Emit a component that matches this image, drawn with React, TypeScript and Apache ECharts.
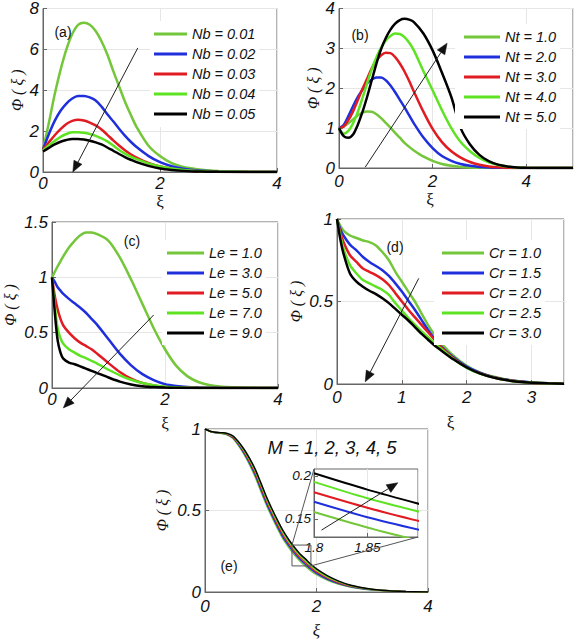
import React, { useEffect, useRef } from "react";
import * as echarts from "echarts";

// ---------- colours ----------
const G1 = "#74c63a";
const BL = "#1f2fdc";
const RD = "#e11b22";
const G2 = "#5ee322";
const BK = "#000000";
const COLORS = [G1, BL, RD, G2, BK];

// ---------- panel (a) ----------
const xsA = [0, 0.1, 0.2, 0.3, 0.4, 0.5, 0.6, 0.7, 0.8, 0.9, 1.0, 1.1, 1.2, 1.3, 1.4, 1.5, 1.6, 1.8, 2.0, 2.2, 2.4, 2.6, 2.8, 3.0, 3.5, 4.0];
const nb1 = [1.1, 2.4, 3.8, 5.0, 6.0, 6.75, 7.2, 7.3, 7.2, 6.9, 6.4, 5.75, 4.95, 4.2, 3.45, 2.8, 2.2, 1.3, 0.78, 0.43, 0.25, 0.15, 0.08, 0.045, 0.008, 0.001];
const nb2 = [1.1, 1.85, 2.5, 3.0, 3.35, 3.6, 3.72, 3.72, 3.65, 3.5, 3.2, 2.83, 2.48, 2.12, 1.78, 1.48, 1.22, 0.79, 0.48, 0.28, 0.16, 0.09, 0.05, 0.025, 0.005, 0];
const nb3 = [1.1, 1.45, 1.8, 2.1, 2.35, 2.5, 2.56, 2.52, 2.42, 2.28, 2.08, 1.82, 1.55, 1.3, 1.07, 0.87, 0.7, 0.44, 0.27, 0.16, 0.09, 0.05, 0.025, 0.012, 0.002, 0];
const nb4 = [1.05, 1.3, 1.52, 1.72, 1.86, 1.94, 1.95, 1.92, 1.86, 1.77, 1.65, 1.5, 1.3, 1.08, 0.9, 0.75, 0.63, 0.42, 0.27, 0.17, 0.1, 0.055, 0.03, 0.015, 0.003, 0];
const nb5 = [1.0, 1.18, 1.35, 1.48, 1.57, 1.62, 1.62, 1.59, 1.53, 1.45, 1.35, 1.2, 1.04, 0.88, 0.73, 0.6, 0.48, 0.3, 0.17, 0.1, 0.055, 0.03, 0.015, 0.008, 0.001, 0];
const namesA = ["Nb = 0.01", "Nb = 0.02", "Nb = 0.03", "Nb = 0.04", "Nb = 0.05"];

// ---------- panel (b) ----------
const xsB = [0, 0.1, 0.2, 0.3, 0.4, 0.5, 0.6, 0.7, 0.8, 0.9, 1.0, 1.1, 1.2, 1.3, 1.4, 1.5, 1.6, 1.8, 2.0, 2.2, 2.4, 2.6, 2.8, 3.0, 3.2, 3.4, 3.6, 3.8, 4.0, 4.5, 5.0];
const nt1 = [1.0, 1.04, 1.12, 1.22, 1.32, 1.39, 1.42, 1.41, 1.35, 1.25, 1.13, 1.01, 0.88, 0.76, 0.63, 0.53, 0.44, 0.29, 0.18, 0.1, 0.055, 0.028, 0.013, 0.006, 0.003, 0.001, 0, 0, 0, 0, 0];
const nt2 = [1.0, 1.08, 1.3, 1.55, 1.78, 1.96, 2.12, 2.22, 2.27, 2.27, 2.2, 2.07, 1.9, 1.71, 1.52, 1.32, 1.12, 0.77, 0.5, 0.3, 0.18, 0.1, 0.055, 0.028, 0.014, 0.007, 0.003, 0.001, 0, 0, 0];
const nt3 = [1.0, 1.04, 1.2, 1.42, 1.7, 1.98, 2.24, 2.5, 2.7, 2.83, 2.89, 2.88, 2.78, 2.62, 2.42, 2.18, 1.92, 1.42, 0.98, 0.65, 0.42, 0.26, 0.15, 0.08, 0.04, 0.018, 0.008, 0.003, 0.001, 0, 0];
const nt4 = [1.0, 0.86, 0.93, 1.12, 1.4, 1.75, 2.12, 2.48, 2.78, 3.02, 3.2, 3.31, 3.37, 3.36, 3.28, 3.14, 2.95, 2.44, 1.95, 1.45, 1.0, 0.65, 0.42, 0.25, 0.14, 0.075, 0.035, 0.015, 0.006, 0.001, 0];
const nt5 = [1.0, 0.8, 0.76, 0.84, 1.08, 1.4, 1.78, 2.2, 2.62, 2.98, 3.26, 3.47, 3.62, 3.71, 3.74, 3.72, 3.66, 3.38, 2.95, 2.39, 1.78, 1.0, 0.59, 0.33, 0.17, 0.085, 0.04, 0.015, 0.006, 0.001, 0];
const namesB = ["Nt = 1.0", "Nt = 2.0", "Nt = 3.0", "Nt = 4.0", "Nt = 5.0"];

// ---------- panel (c) ----------
const xsC = [0, 0.05, 0.1, 0.15, 0.2, 0.3, 0.4, 0.5, 0.6, 0.7, 0.8, 1.0, 1.2, 1.4, 1.6, 1.8, 2.0, 2.2, 2.4, 2.6, 2.8, 3.0, 3.2, 3.5, 4.0];
const le1 = [1.0, 1.05, 1.1, 1.145, 1.19, 1.27, 1.33, 1.38, 1.405, 1.405, 1.39, 1.33, 1.18, 0.98, 0.76, 0.54, 0.35, 0.2, 0.105, 0.052, 0.025, 0.012, 0.006, 0.002, 0];
const le3 = [1.0, 0.96, 0.91, 0.88, 0.85, 0.805, 0.765, 0.725, 0.68, 0.625, 0.57, 0.44, 0.31, 0.205, 0.125, 0.072, 0.035, 0.018, 0.009, 0.005, 0.002, 0.001, 0, 0, 0];
const le5 = [1.0, 0.83, 0.71, 0.625, 0.565, 0.5, 0.45, 0.41, 0.38, 0.35, 0.31, 0.225, 0.145, 0.085, 0.045, 0.022, 0.01, 0.005, 0.002, 0.001, 0, 0, 0, 0, 0];
const le7 = [1.0, 0.74, 0.54, 0.45, 0.4, 0.35, 0.32, 0.29, 0.27, 0.245, 0.22, 0.165, 0.115, 0.075, 0.045, 0.024, 0.012, 0.006, 0.003, 0.001, 0, 0, 0, 0, 0];
const le9 = [1.0, 0.68, 0.43, 0.32, 0.265, 0.23, 0.215, 0.195, 0.175, 0.155, 0.135, 0.095, 0.058, 0.032, 0.016, 0.008, 0.004, 0.002, 0, 0, 0, 0, 0, 0, 0];
const namesC = ["Le = 1.0", "Le = 3.0", "Le = 5.0", "Le = 7.0", "Le = 9.0"];

// ---------- panel (d) ----------
const xsD = [0, 0.05, 0.1, 0.2, 0.3, 0.4, 0.5, 0.6, 0.7, 0.8, 0.9, 1.0, 1.1, 1.2, 1.3, 1.4, 1.5, 1.6, 1.8, 2.0, 2.2, 2.4, 2.6, 2.8, 3.0, 3.25, 3.5];
const cr10 = [1.0, 0.96, 0.93, 0.9, 0.885, 0.87, 0.86, 0.84, 0.8, 0.75, 0.68, 0.62, 0.56, 0.5, 0.43, 0.36, 0.3, 0.25, 0.17, 0.11, 0.07, 0.045, 0.028, 0.016, 0.009, 0.004, 0.002];
const cr15 = [1.0, 0.94, 0.9, 0.845, 0.81, 0.77, 0.74, 0.715, 0.69, 0.655, 0.61, 0.56, 0.505, 0.45, 0.39, 0.33, 0.275, 0.23, 0.16, 0.105, 0.068, 0.043, 0.027, 0.016, 0.009, 0.004, 0.002];
const cr20 = [1.0, 0.92, 0.86, 0.78, 0.74, 0.7, 0.68, 0.66, 0.635, 0.6, 0.55, 0.5, 0.45, 0.405, 0.36, 0.315, 0.27, 0.225, 0.155, 0.1, 0.065, 0.041, 0.025, 0.015, 0.008, 0.004, 0.002];
const cr25 = [1.0, 0.9, 0.82, 0.72, 0.67, 0.63, 0.61, 0.59, 0.57, 0.54, 0.49, 0.445, 0.4, 0.36, 0.32, 0.285, 0.25, 0.215, 0.15, 0.098, 0.063, 0.04, 0.024, 0.014, 0.008, 0.004, 0.002];
const cr30 = [1.0, 0.88, 0.79, 0.67, 0.62, 0.59, 0.565, 0.545, 0.52, 0.49, 0.455, 0.42, 0.385, 0.345, 0.305, 0.27, 0.235, 0.205, 0.148, 0.1, 0.064, 0.04, 0.024, 0.014, 0.008, 0.004, 0.002];
const namesD = ["Cr = 1.0", "Cr = 1.5", "Cr = 2.0", "Cr = 2.5", "Cr = 3.0"];

// ---------- panel (e) ----------
const xsE = [0, 0.1, 0.2, 0.3, 0.4, 0.5, 0.6, 0.7, 0.8, 0.9, 1.0, 1.1, 1.2, 1.3, 1.4, 1.5, 1.6, 1.7, 1.8, 1.9, 2.0, 2.2, 2.4, 2.6, 2.8, 3.0, 3.3, 3.6, 4.0];
const m1 = [1.0, 0.985, 0.976, 0.973, 0.964, 0.942, 0.898, 0.844, 0.78, 0.706, 0.619, 0.534, 0.459, 0.389, 0.324, 0.274, 0.228, 0.191, 0.159, 0.13, 0.106, 0.071, 0.047, 0.031, 0.02, 0.013, 0.007, 0.003, 0];
const m2 = [1.0, 0.985, 0.977, 0.974, 0.966, 0.946, 0.904, 0.852, 0.79, 0.718, 0.632, 0.547, 0.472, 0.402, 0.337, 0.286, 0.24, 0.202, 0.17, 0.14, 0.115, 0.078, 0.052, 0.034, 0.022, 0.014, 0.007, 0.003, 0];
const m3 = [1.0, 0.985, 0.978, 0.975, 0.968, 0.95, 0.91, 0.86, 0.8, 0.73, 0.645, 0.56, 0.485, 0.415, 0.35, 0.298, 0.252, 0.213, 0.181, 0.15, 0.124, 0.085, 0.057, 0.037, 0.024, 0.015, 0.007, 0.003, 0];
const m4 = [1.0, 0.985, 0.979, 0.976, 0.97, 0.954, 0.916, 0.868, 0.81, 0.742, 0.658, 0.573, 0.498, 0.428, 0.363, 0.31, 0.264, 0.224, 0.192, 0.16, 0.133, 0.092, 0.062, 0.04, 0.026, 0.016, 0.007, 0.003, 0];
const m5 = [1.0, 0.985, 0.98, 0.977, 0.972, 0.958, 0.922, 0.876, 0.82, 0.754, 0.671, 0.586, 0.511, 0.441, 0.376, 0.322, 0.276, 0.235, 0.203, 0.17, 0.142, 0.099, 0.067, 0.043, 0.028, 0.017, 0.007, 0.003, 0];
const namesE = ["M = 1", "M = 2", "M = 3", "M = 4", "M = 5"];

// ---------- inset of (e) ----------
const xsIn = [1.8, 1.85, 1.9];
const in1 = [0.158, 0.14, 0.124];
const in2 = [0.17, 0.152, 0.137];
const in3 = [0.181, 0.163, 0.147];
const in4 = [0.193, 0.174, 0.158];
const in5 = [0.203, 0.184, 0.167];
const namesIn = ["M = 1 (zoom)", "M = 2 (zoom)", "M = 3 (zoom)", "M = 4 (zoom)", "M = 5 (zoom)"];
const insetYTicks = [0.15, 0.2];

// ---------- styles ----------
const SANS = "'Liberation Sans', Arial, Helvetica, sans-serif";
const SERIF = "'Liberation Serif', 'Times New Roman', 'DejaVu Serif', serif";
const AXIS_C = "#666";
const GRID_C = "#e6e6e6";
const TXT = "#111";

function mkSeries(grid: number, xs: number[], ys: number[][], names: string[], width: number, z = 2) {
  return ys.map((arr, j) => ({
    type: "line",
    name: names[j],
    xAxisIndex: grid,
    yAxisIndex: grid,
    data: xs.map((x, k) => [x, arr[k]]),
    smooth: 0.3,
    showSymbol: false,
    symbol: "none",
    z,
    itemStyle: { color: COLORS[j] },
    lineStyle: { color: COLORS[j], width },
    emphasis: { disabled: true },
  }));
}

function mkX(i: number, c: any) {
  return {
    type: "value",
    gridIndex: i,
    min: c.min,
    max: c.max,
    interval: c.interval,
    z: c.z,
    axisLine: { show: true, onZero: false, lineStyle: { color: AXIS_C, width: 1 } },
    axisTick: { show: true, inside: true, length: 4, lineStyle: { color: AXIS_C } },
    axisLabel: {
      fontSize: c.fs ?? 17,
      fontStyle: "italic",
      fontFamily: SANS,
      color: TXT,
      margin: c.margin ?? 3,
      showMaxLabel: c.showMax,
    },
    splitLine: { show: true, lineStyle: { color: GRID_C, width: 1 } },
    name: c.name,
    nameLocation: "middle",
    nameGap: c.nameGap,
    nameTextStyle: {
      fontFamily: SERIF,
      fontSize: 17,
      color: TXT,
      fontStyle: c.nameItalic ? "italic" : "normal",
      padding: c.namePadding ?? 0,
    },
  };
}

function mkY(i: number, c: any) {
  return {
    type: "value",
    gridIndex: i,
    min: c.min,
    max: c.max,
    interval: c.interval,
    z: c.z,
    axisLine: { show: true, onZero: false, lineStyle: { color: AXIS_C, width: 1 } },
    axisTick: { show: true, inside: true, length: 4, lineStyle: { color: AXIS_C }, customValues: c.custom },
    axisLabel: {
      fontSize: c.fs ?? 17,
      fontStyle: "italic",
      fontFamily: SANS,
      color: TXT,
      margin: c.margin ?? 4,
      customValues: c.custom,
    },
    splitLine: { show: c.split ?? true, lineStyle: { color: GRID_C, width: 1 } },
    name: c.name,
    nameLocation: "middle",
    nameRotate: 90,
    nameGap: c.nameGap,
    nameTextStyle: { fontFamily: SERIF, fontSize: 16, fontStyle: "italic", color: TXT },
  };
}

function mkLegend(names: string[], left: number, top: number, itemWidth: number, padding: number[]) {
  return {
    data: names,
    orient: "vertical",
    left,
    top,
    itemWidth,
    itemHeight: 3,
    itemGap: 0,
    icon: "rect",
    selectedMode: false,
    backgroundColor: "#ffffff",
    padding,
    z: 4,
    textStyle: { fontSize: 14.5, fontStyle: "italic", fontFamily: SANS, color: TXT, lineHeight: 20 },
  };
}

const PHI = "Φ ( ξ )";

function buildOption() {
  return {
    animation: false,
    backgroundColor: "#ffffff",
    grid: [
      { left: 43, top: 7, width: 234, height: 165, show: true, borderColor: AXIS_C, borderWidth: 1 },
      { left: 339, top: 7, width: 234, height: 161, show: true, borderColor: AXIS_C, borderWidth: 1 },
      { left: 52, top: 222, width: 226, height: 166, show: true, borderColor: AXIS_C, borderWidth: 1 },
      { left: 337, top: 219, width: 227, height: 165, show: true, borderColor: AXIS_C, borderWidth: 1 },
      { left: 205, top: 429, width: 223, height: 163, show: true, borderColor: AXIS_C, borderWidth: 1 },
      { left: 314, top: 469, width: 104, height: 68, show: true, borderColor: AXIS_C, borderWidth: 1, backgroundColor: "#ffffff", z: 1 },
    ],
    xAxis: [
      mkX(0, { min: 0, max: 4, interval: 2, name: "ξ", nameGap: 20, margin: 3 }),
      mkX(1, { min: 0, max: 5, interval: 2, name: "ξ", nameGap: 19, margin: 5, showMax: false, namePadding: [0, 52, 0, 0] }),
      mkX(2, { min: 0, max: 4, interval: 2, name: "ξ", nameGap: 27, margin: 3 }),
      mkX(3, { min: 0, max: 3.5, interval: 1, name: "ξ", nameGap: 30, margin: 5, showMax: false }),
      mkX(4, { min: 0, max: 4, interval: 2, name: "ξ", nameGap: 30, margin: 6, nameItalic: true }),
      mkX(5, { min: 1.8, max: 1.8975, interval: 0.05, fs: 13.5, margin: 3, showMax: false, z: 2 }),
    ],
    yAxis: [
      mkY(0, { min: 0, max: 8, interval: 2, name: PHI, nameGap: 17 }),
      mkY(1, { min: 0, max: 4, interval: 1, name: PHI, nameGap: 9 }),
      mkY(2, { min: 0, max: 1.5, interval: 0.5, name: PHI, nameGap: 34 }),
      mkY(3, { min: 0, max: 1, interval: 0.5, name: PHI, nameGap: 33 }),
      mkY(4, { min: 0, max: 1, interval: 0.5, name: PHI, nameGap: 35 }),
      mkY(5, { min: 0.129, max: 0.208, fs: 13.5, margin: 3, custom: insetYTicks, split: false, z: 2 }),
    ],
    legend: [
      mkLegend(namesA, 150, 21, 33, [3, 4, 3, 4]),
      mkLegend(namesB, 455, 24, 36, [3, 4, 2, 9]),
      mkLegend(namesC, 162, 240, 37, [3, 4, 2, 5]),
      mkLegend(namesD, 434, 240, 42, [3, 4, 2, 8]),
    ],
    series: [
      ...mkSeries(0, xsA, [nb1, nb2, nb3, nb4, nb5], namesA, 2.5),
      ...mkSeries(1, xsB, [nt1, nt2, nt3, nt4, nt5], namesB, 2.5),
      ...mkSeries(2, xsC, [le1, le3, le5, le7, le9], namesC, 2.5),
      ...mkSeries(3, xsD, [cr10, cr15, cr20, cr25, cr30], namesD, 2.5),
      ...mkSeries(4, xsE, [m1, m2, m3, m4, m5], namesE, 1.5),
      ...mkSeries(5, xsIn, [in1, in2, in3, in4, in5], namesIn, 2, 3),
    ],
  };
}

function arrow(chart: any, grid: number, from: number[], to: number[]) {
  const p1 = chart.convertToPixel({ gridIndex: grid }, from);
  const p2 = chart.convertToPixel({ gridIndex: grid }, to);
  const dx = p2[0] - p1[0];
  const dy = p2[1] - p1[1];
  const len = Math.sqrt(dx * dx + dy * dy) || 1;
  const ux = dx / len;
  const uy = dy / len;
  const L = 11;
  const W = 4.5;
  const bx = p2[0] - ux * L;
  const by = p2[1] - uy * L;
  return [
    { type: "line", z: 100, shape: { x1: p1[0], y1: p1[1], x2: bx, y2: by }, style: { stroke: "#222", lineWidth: 1 } },
    {
      type: "polygon",
      z: 100,
      shape: { points: [[p2[0], p2[1]], [bx - uy * W, by + ux * W], [bx + uy * W, by - ux * W]] },
      style: { fill: "#111", stroke: "#111", lineWidth: 0.5 },
    },
  ];
}

function label(text: string, x: number, y: number, size: number, italic = false) {
  return {
    type: "text",
    z: 100,
    x,
    y,
    style: {
      text,
      fontSize: size,
      fontFamily: SANS,
      fontStyle: italic ? "italic" : "normal",
      fill: TXT,
      align: "center",
      verticalAlign: "middle",
    },
  };
}

function buildGraphics(chart: any) {
  const g: any[] = [];
  g.push(...arrow(chart, 0, [1.62, 6.07], [0.51, 0]));
  g.push(...arrow(chart, 1, [0.56, 0.02], [2.31, 3.13]));
  g.push(...arrow(chart, 2, [1.8, 0.66], [0.2, -0.18]));
  g.push(...arrow(chart, 3, [1.26, 0.64], [0.435, 0.013]));
  g.push(...arrow(chart, 5, [1.807, 0.137], [1.8786, 0.192]));

  // zoom box in (e) and connectors to the inset
  const r1 = chart.convertToPixel({ gridIndex: 4 }, [1.56, 0.288]);
  const r2 = chart.convertToPixel({ gridIndex: 4 }, [1.9, 0.16]);
  const i1 = chart.convertToPixel({ gridIndex: 5 }, [1.8, 0.208]);
  const i2 = chart.convertToPixel({ gridIndex: 5 }, [1.8975, 0.129]);
  g.push({
    type: "rect",
    z: 100,
    shape: { x: r1[0], y: r1[1], width: r2[0] - r1[0], height: r2[1] - r1[1] },
    style: { fill: "none", stroke: "#555", lineWidth: 1 },
  });
  g.push({ type: "line", z: 100, shape: { x1: r1[0], y1: r1[1], x2: i1[0], y2: i1[1] }, style: { stroke: "#555", lineWidth: 1 } });
  g.push({ type: "line", z: 100, shape: { x1: r2[0], y1: r2[1], x2: i2[0], y2: i2[1] }, style: { stroke: "#555", lineWidth: 1 } });

  g.push(label("(a)", 63, 32, 14));
  g.push(label("(b)", 360, 35, 14));
  g.push(label("(c)", 132, 241, 14));
  g.push(label("(d)", 395, 247, 14));
  g.push(label("(e)", 229, 566, 14));
  g.push(label("M = 1, 2, 3, 4, 5", 332, 447, 18.5, true));
  return g;
}

export default function App() {
  const ref = useRef<HTMLDivElement>(null);
  useEffect(() => {
    if (!ref.current) return;
    const chart = echarts.init(ref.current, null, { renderer: "svg" });
    chart.setOption(buildOption() as any);
    chart.setOption({ graphic: buildGraphics(chart) } as any);
    return () => {
      chart.dispose();
    };
  }, []);
  return (
    <div
      ref={ref}
      style={{ position: "absolute", left: 0, top: 0, width: 574, height: 640, background: "#fff" }}
    />
  );
}
